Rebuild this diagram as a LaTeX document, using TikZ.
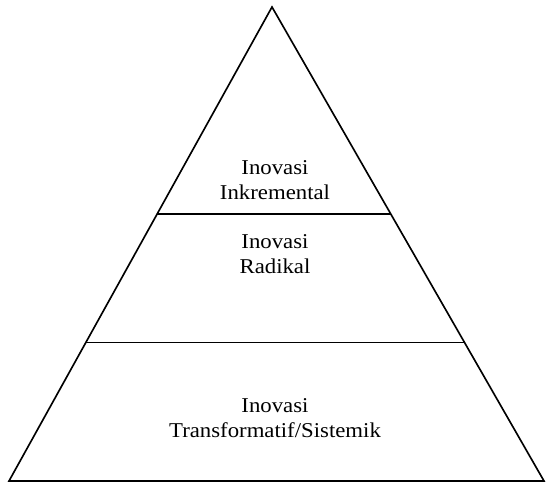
\documentclass[tikz,border=0pt]{standalone}
\usepackage{fontspec}
\setmainfont{Liberation Serif}[FakeStretch=1.08]
\usetikzlibrary{calc}

\begin{document}
\begin{tikzpicture}[x=0.03cm, y=-0.03cm, level/.style={align=center, font=\fontsize{18}{21}\selectfont}]
\useasboundingbox (0,0) rectangle (546,484);
% Corners of the pyramid
\coordinate (apex) at (272,7);
\coordinate (baseL) at (9,481);
\coordinate (baseR) at (544,481);
% Outline
\draw[line width=1.4pt, line join=miter] (baseL) -- (apex) -- (baseR) -- cycle;
% Dividing lines
\coordinate (upL) at ($(apex)!0.437!(baseL)$);
\coordinate (upR) at ($(apex)!0.437!(baseR)$);
\coordinate (lowL) at ($(apex)!0.708!(baseL)$);
\coordinate (lowR) at ($(apex)!0.708!(baseR)$);
\draw[line width=1.2pt] (upL) -- (upR);
\draw[line width=1.2pt] (lowL) -- (lowR);
% Labels
\node[level] (inkremental) at (275,180) {Inovasi\\Inkremental};
\node[level] (radikal) at (275,254) {Inovasi\\Radikal};
\node[level] (sistemik) at (275,418) {Inovasi\\Transformatif/Sistemik};
\end{tikzpicture}
\end{document}
